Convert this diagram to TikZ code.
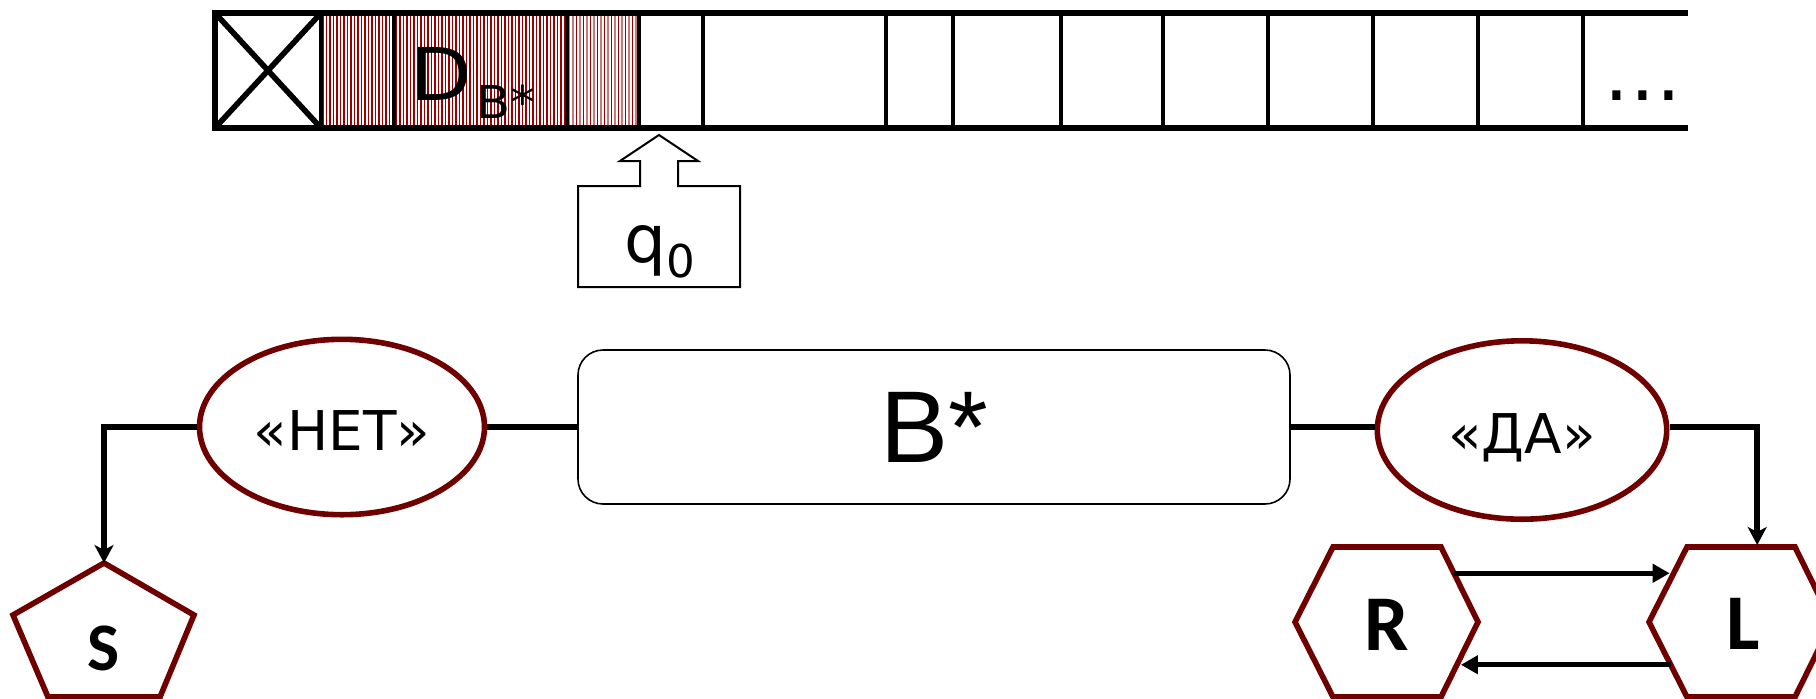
\documentclass[tikz,border=0pt]{standalone}
\usepackage{fontspec}
\setmainfont{DejaVu Sans}
\newfontfamily\arialfam{Liberation Sans}
\newfontfamily\calfam{Carlito}
\usetikzlibrary{shapes.geometric,arrows.meta,calc}
\definecolor{rim}{RGB}{112,0,0}
\definecolor{hatchdark}{RGB}{155,0,0}
\definecolor{hatchlight}{RGB}{205,120,120}

\begin{document}
\begin{tikzpicture}[x=0.5pt,y=-0.5pt,
  tapeline/.style={line width=3.2pt},
  cellsep/.style={line width=1.6pt},
  conn/.style={line width=3pt},
  tipdown/.style={-{Stealth[length=9pt,width=9.5pt,inset=2.5pt]}},
  swapline/.style={line width=2.6pt,-{Triangle[length=8.5pt,width=9pt]},shorten >=2pt},
  answer/.style={ellipse, draw=rim, line width=2.8pt, inner sep=0pt,
    text height=23.5pt, text depth=0pt, font=\fontsize{27.4pt}{30pt}\selectfont},
  rimline/.style={draw=rim, line width=2.8pt},
  letter/.style={inner sep=0pt, anchor=base, font=\calfam\bfseries\fontsize{39.5pt}{40pt}\selectfont}
]
\clip (0,0) rectangle (1816,698);
\fill[white] (0,0) rectangle (1816,698);

% hatched cells of the tape
\foreach \x in {323,326.5,...,565} \draw[hatchdark, line width=0.55pt] (\x,13) -- (\x,128);
\foreach \x in {569.5,573,...,638} \draw[hatchlight, line width=0.6pt] (\x,13) -- (\x,128);
\foreach \x in {576.5,583.5,...,638} \draw[hatchdark, line width=0.5pt] (\x,13) -- (\x,128);

% tape frame and cells
\draw[tapeline] (215,13) -- (1688,13);
\draw[tapeline] (215,128) -- (1688,128);
\draw[line width=2.6pt] (215,10) -- (215,131);
\foreach \x in {321,567} \draw[line width=2.2pt] (\x,13) -- (\x,128);
\foreach \x in {394,639,703,886,953,1061,1163,1268,1373,1478,1583} \draw[cellsep] (\x,13) -- (\x,128);
\draw[line width=2.8pt] (215,13) -- (321,128) (321,13) -- (215,128);

\node[anchor=base west, inner sep=0pt, font=\fontsize{36.4pt}{37pt}\selectfont] (dlabel) at (410,100)
  {\scalebox{1.1}[1]{D}\hspace{2pt}\raisebox{-9pt}{\fontsize{22.6pt}{23pt}\selectfont\scalebox{1.1}[1]{B*}}};
\node[anchor=base west, inner sep=0pt, font=\fontsize{39pt}{39pt}\selectfont] (dots) at (1604,100)
  {.\hspace{0.6pt}.\hspace{0.6pt}.};

% read head
\draw[line width=1pt] (659,135) -- (698,161) -- (678,161) -- (678,186) -- (740,186) -- (740,287)
  -- (578,287) -- (578,186) -- (640,186) -- (640,161) -- (620,161) -- cycle;
\node[anchor=base west, inner sep=0pt, font=\fontsize{33pt}{33pt}\selectfont] (q) at (624,262)
  {q\raisebox{-7.5pt}{\fontsize{22.6pt}{22.6pt}\selectfont 0}};

% machine and its answers
\node[answer, minimum width=142.5pt, minimum height=87.7pt] (net) at (342,427) {«НЕТ»};
\node[draw, line width=0.8pt, rounded corners=12.5pt, minimum width=356pt, minimum height=77pt,
  inner sep=0pt, font=\arialfam\fontsize{51pt}{51pt}\selectfont] (bstar) at (934,427) {B*};
\node[answer, minimum width=144.7pt, minimum height=89.2pt] (da) at (1522,430) {«ДА»};

% stop state
\coordinate (Stop) at (104,563);
\draw[rimline] (Stop) -- (194,615) -- (160,697) -- (48,697) -- (13,615) -- cycle;
\node[letter, font=\calfam\bfseries\fontsize{34pt}{34pt}\selectfont] (S) at (104,670) {S};

% R and L states
\coordinate (Rtl) at (1333,547); \coordinate (Rtr) at (1441,547); \coordinate (Rr) at (1478,622);
\coordinate (Rbr) at (1441,697); \coordinate (Rbl) at (1333,697); \coordinate (Rl) at (1295,622);
\draw[rimline] (Rtl) -- (Rtr) -- (Rr) -- (Rbr) -- (Rbl) -- (Rl) -- cycle;
\node[letter] (R) at (1387,650) {R};

\coordinate (Ltl) at (1687,547); \coordinate (Ltr) at (1795,547); \coordinate (Lr) at (1832,622);
\coordinate (Lbr) at (1795,697); \coordinate (Lbl) at (1687,697); \coordinate (Ll) at (1649,622);
\draw[rimline] (Ltl) -- (Ltr) -- (Lr) -- (Lbr) -- (Lbl) -- (Ll) -- cycle;
\node[letter] (L) at (1743,649) {L};

\coordinate (rOut) at ($(Rtr)!0.35!(Rr)$);
\coordinate (lIn) at ($(Ltl)!0.35!(Ll)$);
\coordinate (lOut) at ($(Ll)!0.57!(Lbl)$);
\coordinate (rIn) at ($(Rr)!0.57!(Rbr)$);
\coordinate (Ltop) at ($(Ltl)!0.65!(Ltr)$);

% connectors
\draw[conn, tipdown] (net.west) -| (Stop);
\draw[conn] (net.east) -- (bstar.west);
\draw[conn] (bstar.east) -- (bstar.east -| da.west);
\draw[conn, tipdown, shorten >=1pt] (bstar.east -| da.east) -| (Ltop);
\draw[swapline] (rOut) -- (lIn);
\draw[swapline] (lOut) -- (rIn);
\end{tikzpicture}
\end{document}
